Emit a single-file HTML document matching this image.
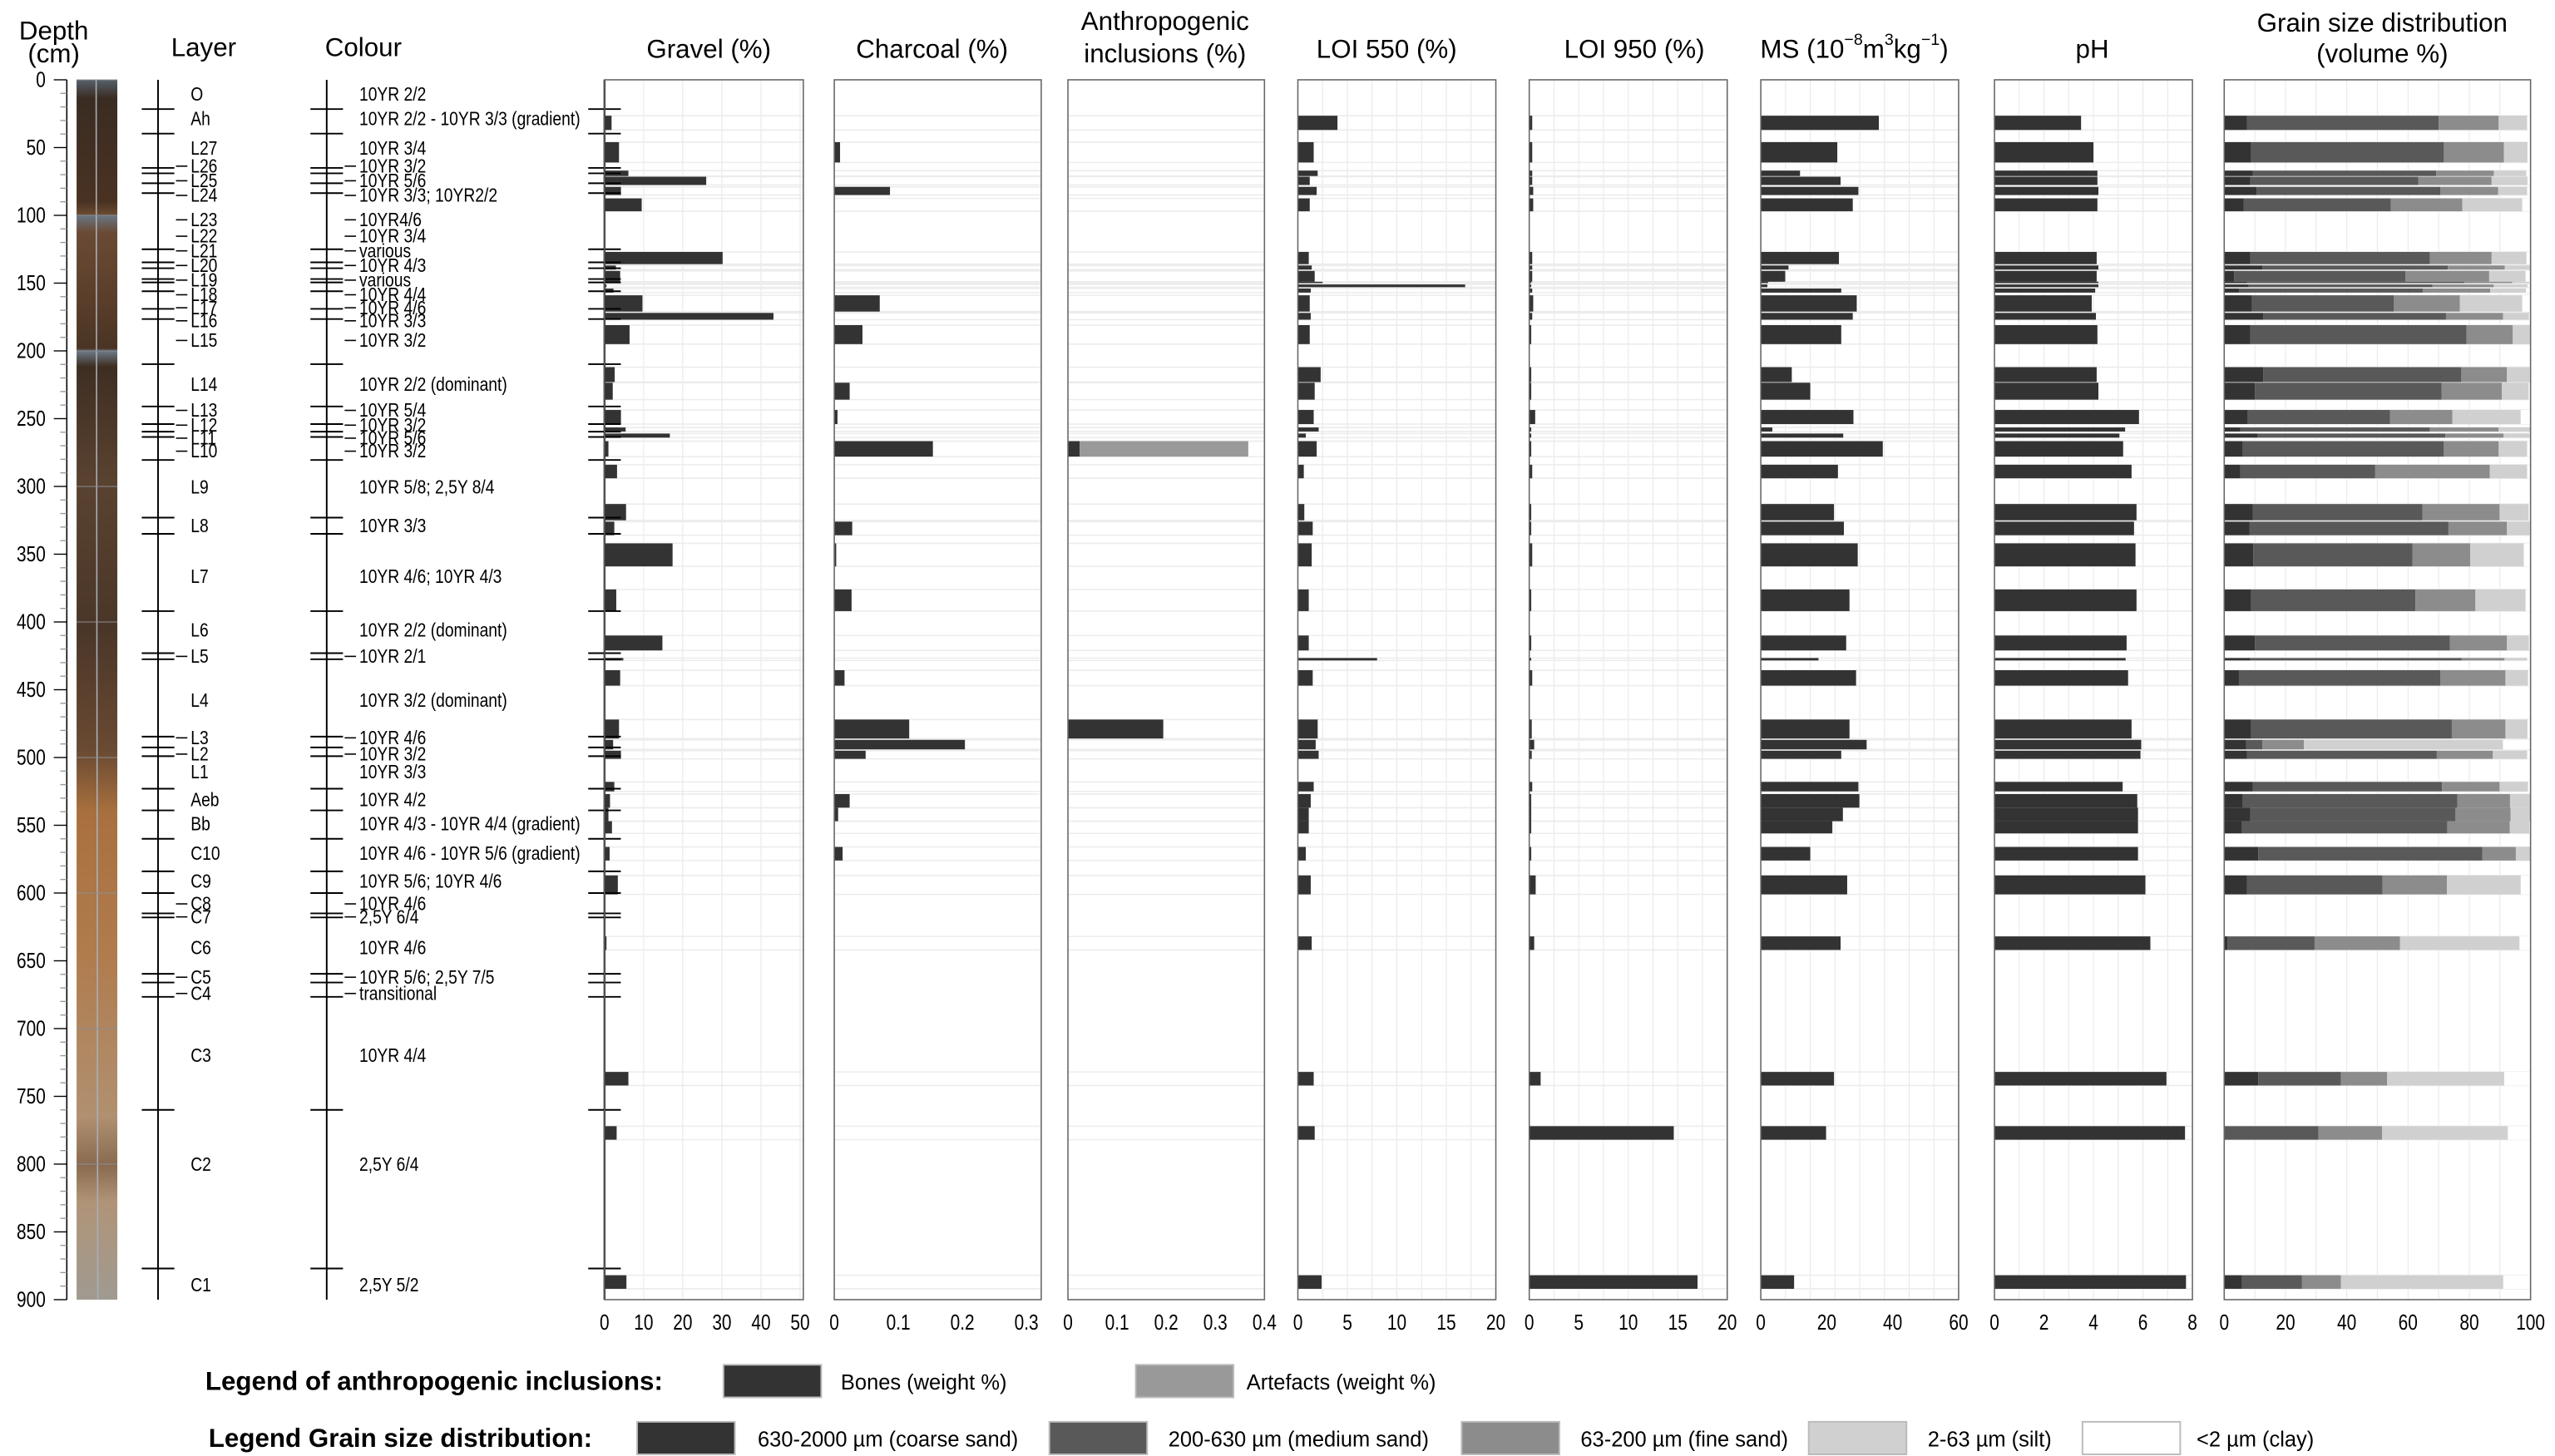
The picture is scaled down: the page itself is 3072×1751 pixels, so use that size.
<!DOCTYPE html>
<html><head><meta charset="utf-8"><title>Soil profile chart</title>
<style>html,body{margin:0;padding:0;background:#fff}svg{display:block}</style></head>
<body>
<svg id="chart" xmlns="http://www.w3.org/2000/svg" width="3072" height="1751" viewBox="0 0 1568 894" preserveAspectRatio="none" font-family="Liberation Sans, sans-serif">
<defs>
<linearGradient id="core" x1="0" y1="0" x2="0" y2="1">
<stop offset="0" stop-color="#56606a"/><stop offset="0.015" stop-color="#3a2c22"/>
<stop offset="0.1" stop-color="#4a3222"/><stop offset="0.11" stop-color="#6a4a30"/>
<stop offset="0.112" stop-color="#687480"/><stop offset="0.125" stop-color="#6a4a34"/>
<stop offset="0.18" stop-color="#5a3e2a"/><stop offset="0.22" stop-color="#4a3424"/>
<stop offset="0.223" stop-color="#6a7682"/><stop offset="0.235" stop-color="#3e2e22"/>
<stop offset="0.33" stop-color="#5a4230"/><stop offset="0.45" stop-color="#4a3628"/>
<stop offset="0.55" stop-color="#6a4a32"/><stop offset="0.6" stop-color="#a8703e"/>
<stop offset="0.72" stop-color="#b07c4e"/><stop offset="0.85" stop-color="#b09070"/>
<stop offset="0.89" stop-color="#8a6a50"/><stop offset="0.92" stop-color="#b09478"/>
<stop offset="1" stop-color="#a09a90"/>
</linearGradient>
</defs>
<g id="g"></g>
</svg>
<script>
// ---- data ----
const sampleTop    = [26.5,46,67,71.5,79,87.5,127,137,141,149,151,154,159,172,181,212,223.5,243.6,256.5,261,266.6,284,313,326,342,376,410,426.6,435.6,472,487,495,518,527,537,547,566,587,632,732,772,882];
const sampleBottom = [37,61,71,77.6,85,97,136,140,149,150,153,157,171,177,195,223,236,254,259.5,264,278,294,325,336,359,392,421,428.4,447,486,494,501,525,537,547,556,576,601,642,742,782,892];
const gravel   = [1.8,3.7,6.1,26,4.2,9.5,30.2,2.9,4.0,0.9,0.5,2.3,9.7,43.2,6.4,2.6,2.1,4.2,5.4,16.7,1.0,3.2,5.5,2.5,17.4,3.0,14.8,4.8,4.0,3.7,2.2,4.2,2.5,1.4,1.0,1.9,1.3,3.4,0.5,6.1,3.1,5.6];
const charcoal = [0,0.009,0,0,0.087,0,0,0,0,0,0,0,0.071,0,0.044,0,0.024,0.005,0,0,0.154,0,0,0.028,0.003,0.027,0,0,0.016,0.117,0.204,0.049,0,0.024,0.006,0,0.013,0,0,0,0,0];
const bones     = [0,0,0,0,0,0,0,0,0,0,0,0,0,0,0,0,0,0,0,0,0.024,0,0,0,0,0,0,0,0,0.194,0,0,0,0,0,0,0,0,0,0,0,0];
const artefacts = [0,0,0,0,0,0,0,0,0,0,0,0,0,0,0,0,0,0,0,0,0.343,0,0,0,0,0,0,0,0,0,0,0,0,0,0,0,0,0,0,0,0,0];
const loi550 = [4.0,1.6,2.0,1.2,1.9,1.2,1.1,1.4,1.7,2.5,16.9,1.3,1.2,1.3,1.2,2.3,1.7,1.6,2.1,0.8,1.9,0.6,0.65,1.5,1.4,1.1,1.1,8.0,1.5,2.0,1.8,2.1,1.6,1.3,1.1,1.1,0.8,1.3,1.4,1.6,1.7,2.4];
const loi950 = [0.3,0.3,0.3,0.3,0.4,0.4,0.3,0.3,0.3,0.2,0.2,0.3,0.4,0.3,0.2,0.2,0.2,0.6,0.2,0.2,0.2,0.3,0.2,0.2,0.3,0.2,0.2,0.2,0.3,0.25,0.5,0.25,0.3,0.2,0.2,0.2,0.2,0.65,0.5,1.15,14.6,17.0];
const ms = [35.8,23.2,11.9,24.2,29.6,27.9,23.7,8.4,7.4,2.2,2.0,24.4,29.1,27.9,24.4,9.4,15,28.1,3.5,25,37,23.4,22.2,25.2,29.4,26.9,25.9,17.5,28.9,26.9,32.1,24.4,29.6,29.9,24.9,21.7,15,26.2,24.2,22.2,19.8,10.1];
const ph = [3.5,4.0,4.16,4.16,4.2,4.16,4.13,4.2,4.13,4.2,4.2,4.07,3.93,4.1,4.16,4.13,4.2,5.84,5.28,5.05,5.2,5.54,5.74,5.64,5.7,5.74,5.34,5.3,5.4,5.54,5.93,5.9,5.18,5.77,5.8,5.8,5.8,6.1,6.3,6.95,7.7,7.74];
const coarse = [7.4,8.8,9.3,8.5,10.6,6.4,8.5,12.5,3.2,7.4,8,4.8,9,12.7,8.5,12.7,10,7.7,5.3,10.9,6.1,5.3,9.3,8.2,9.5,8.8,10,8.5,4.8,8.8,7.2,7.4,9.3,6.1,8.5,5.8,11.1,7.4,1.1,11.1,0,5.8];
const medium = [62.6,62.9,59.9,54.9,60,48,58.6,60.5,56,71,60,60,46.4,59.7,70.6,64.7,61,46.4,61.8,61.3,65.5,44,55.4,65,52,53.6,63.7,69,65.8,65.5,5.3,62,61.8,70,67,67,73.2,44.3,28.4,27,30.8,19.6];
const fine   = [19.6,19.6,18.8,23.9,18.8,23.3,20.2,18.6,27.3,15.6,20,22,21.5,18.6,15.1,14.9,19.6,20.4,22.5,19,18,37.4,25.2,19.1,18.8,19.6,18.6,14,21.2,17.5,13.5,18.3,18.8,17.2,18,20.4,10.9,21,27.9,15.1,20.7,12.7];
const silt   = [9.3,7.7,10.6,11.7,9.5,19.6,11.4,8.2,11.9,5.6,11,11.7,20.4,8.5,5.6,7.4,8.8,22.3,10.3,8.5,9.3,12.2,9.5,7.4,17.5,16.4,7.2,7.4,7.4,7.2,65,11.2,9.3,6.6,6.4,6.4,4.8,24.1,39,38.2,41.1,53];
const clay   = [1.1,1,1.4,1,1.1,2.7,1.3,0.2,1.6,0.4,1,1.5,2.7,0.5,0.2,0.3,0.6,3.2,0,0.3,1.1,1.1,0.6,0.3,2.2,1.6,0.5,1.1,0.8,1,9,1.1,0.8,0,0,0.3,0,3.2,3.6,8.6,7.4,8.9];
const boundaries = [21.6,39.7,65,69,76.3,83.6,125,134.7,139,147,149.5,156,169,176.5,209.8,241,254,259.6,263.5,280.5,323,335,392,423,427.5,484.6,492.6,499,523,539,560,584,600,615,618,659.6,666,676.6,760,877];
const layerNames = ["O","Ah","L27","L26","L25","L24","L23","L22","L21","L20","L19","L18","L17","L16","L15","L14","L13","L12","L11","L10","L9","L8","L7","L6","L5","L4","L3","L2","L1","Aeb","Bb","C10","C9","C8","C7","C6","C5","C4","C3","C2","C1"];
const colourNames = ["10YR 2/2","10YR 2/2 - 10YR 3/3 (gradient)","10YR 3/4","10YR 3/2","10YR 5/6","10YR 3/3; 10YR2/2","10YR4/6","10YR 3/4","various","10YR 4/3","various","10YR 4/4","10YR 4/6","10YR 3/3","10YR 3/2","10YR 2/2 (dominant)","10YR 5/4","10YR 3/2","10YR 5/6","10YR 3/2","10YR 5/8; 2,5Y 8/4","10YR 3/3","10YR 4/6; 10YR 4/3","10YR 2/2 (dominant)","10YR 2/1","10YR 3/2 (dominant)","10YR 4/6","10YR 3/2","10YR 3/3","10YR 4/2","10YR 4/3 - 10YR 4/4 (gradient)","10YR 4/6 - 10YR 5/6 (gradient)","10YR 5/6; 10YR 4/6","10YR 4/6","2,5Y 6/4","10YR 4/6","10YR 5/6; 2,5Y 7/5","transitional","10YR 4/4","2,5Y 6/4","2,5Y 5/2"];
const labelDepth = [10.8,28.8,50.5,63.7,74.5,85.3,103.3,115.4,126.2,137,147.8,158.6,168.2,177.8,192.3,224.7,243.9,254.8,264.4,274,300.4,329.2,366.5,406.2,425.4,457.8,485.5,497.5,510.7,531.1,549.1,570.8,591.2,608,617.6,640.5,662.1,674.1,719.8,800.3,889.2];
const leader = [0,0,0,1,1,1,1,1,1,1,1,1,1,1,1,0,1,1,1,1,0,0,0,0,1,0,1,1,0,0,0,0,0,1,1,0,1,1,0,0,0];
const depthTicks = [0,50,100,150,200,250,300,350,400,450,500,550,600,650,700,750,800,850,900];
const gravelTicks = [0,10,20,30,40,50];
const charcoalTicks = [0,0.1,0.2,0.3];
const anthroTicks = [0,0.1,0.2,0.3,0.4];
const loiTicks = [0,5,10,15,20];
const msTicks = [0,20,40,60];
const phTicks = [0,2,4,6,8];
const grainTicks = [0,20,40,60,80,100];

// ---- drawing ----
const NS='http://www.w3.org/2000/svg';
const G=document.getElementById('g');
const Y0=49, Y1=798;
function y(d){return Y0+d*(Y1-Y0)/900;}
function mk(tag,attrs,parent){const e=document.createElementNS(NS,tag);for(const k in attrs)e.setAttribute(k,attrs[k]);(parent||G).appendChild(e);return e;}
const NARROW='narrow';
function txt(s,x,yy,size,anchor,parent,weight,family){
  const a={'font-size':size,'text-anchor':anchor||'start','dominant-baseline':'central','font-weight':weight||'normal','font-family':'Liberation Sans, sans-serif'};
  if(family===NARROW){a.x=0;a.y=yy;a.transform='translate('+x+',0) scale(0.82,1)';}else{a.x=x;a.y=yy;}
  const t=mk('text',a,parent);t.textContent=s;return t;}

// titles
const titles=[["Depth",33,19],["(cm)",33,33],["Layer",125,29],["Colour",223,29],["Gravel (%)",435,30],["Charcoal (%)",572,30],["Anthropogenic",715,13],["inclusions (%)",715,33],["LOI 550 (%)",851,30],["LOI 950 (%)",1003,30],["Grain size distribution",1462,14],["(volume %)",1462,33]];
titles.forEach(t=>{const e=txt(t[0],t[1],t[2],16,'middle');});
{const e=mk('text',{x:1138,y:30,'font-size':16,'text-anchor':'middle','dominant-baseline':'central'});e.innerHTML='MS (10<tspan baseline-shift="super" font-size="10">−8</tspan>m<tspan baseline-shift="super" font-size="10">3</tspan>kg<tspan baseline-shift="super" font-size="10">−1</tspan>)';}
{const e=txt("pH",1284,30,16,'middle');}

// depth axis
const dax=mk('g',{});
mk('line',{x1:41,y1:Y0,x2:41,y2:Y1,stroke:'#000','stroke-width':0.8},dax);
for(let d=0;d<=900;d+=10){mk('line',{x1:d%50===0?33:37,y1:y(d),x2:41,y2:y(d),stroke:d%50===0?'#000':'#999','stroke-width':0.7},dax);}
depthTicks.forEach(d=>{const e=txt(String(d),28,y(d),13,'end',dax,'normal',NARROW);});
// core photo
const ph0=mk('rect',{x:47,y:Y0,width:25,height:Y1-Y0,fill:'url(#core)'});

mk('line',{x1:59,y1:Y0,x2:60,y2:Y1,stroke:'#a8b0b8','stroke-width':0.8});
[0,100,200,300,400,500,600,700,800].forEach(d=>mk('line',{x1:47,y1:y(d),x2:72,y2:y(d),stroke:'#8a8f96','stroke-width':0.5}));

// layer & colour columns
function column(lineX,labelX,names,nameTag){
  const g=mk('g',{});
  mk('line',{x1:lineX,y1:Y0,x2:lineX,y2:Y1,stroke:'#000','stroke-width':1},g);
  boundaries.forEach(b=>mk('line',{x1:lineX-10,y1:y(b),x2:lineX+10,y2:y(b),stroke:'#000','stroke-width':1},g));
  names.forEach((n,i)=>{
    const e=txt(n,labelX,y(labelDepth[i]),12,'start',g,'normal',NARROW);
    
    if(leader[i]) mk('line',{x1:labelX-9,y1:y(labelDepth[i]),x2:labelX-2,y2:y(labelDepth[i]),stroke:'#000','stroke-width':0.8},g);
  });
}
column(97,117,layerNames,'layer');
column(200.5,220.5,colourNames,'colour');

// panels
function panel(name,x0,x1,pxPerUnit,ticks,grid,drawFn){
  const g=mk('g',{});
  function sx(v){return x0+v*pxPerUnit;}
  grid.forEach(v=>mk('line',{x1:sx(v),y1:Y0,x2:sx(v),y2:Y1,stroke:'#e6e6e6','stroke-width':0.5},g));
  sampleTop.forEach((t,i)=>{[t,sampleBottom[i]].forEach(d=>mk('line',{x1:x0,y1:y(d),x2:x1,y2:y(d),stroke:'#ececec','stroke-width':0.8},g));});
  drawFn(g,sx);
  mk('rect',{x:x0,y:Y0,width:x1-x0,height:Y1-Y0,fill:'none',stroke:'#666','stroke-width':0.8},g);
  ticks.forEach(v=>{const e=txt(String(v),sx(v),812,13,'middle',g,'normal',NARROW);});
  return g;
}
function simpleBars(arr,name){return (g,sx)=>{arr.forEach((v,i)=>{if(!v)return;const r=mk('rect',{x:sx(0),y:y(sampleTop[i]),width:sx(v)-sx(0),height:y(sampleBottom[i])-y(sampleTop[i]),fill:'#333'},g);});};}
function range(a,b,s){const r=[];for(let v=a;v<=b+1e-9;v+=s)r.push(+v.toFixed(4));return r;}

panel('gravel',371,493,120/50,gravelTicks,range(0,50,10),(g,sx)=>{
  simpleBars(gravel,'gravel')(g,sx);
  mk('line',{x1:371,y1:Y0,x2:371,y2:Y1,stroke:'#000','stroke-width':1.2},g);
  boundaries.forEach(b=>mk('line',{x1:361,y1:y(b),x2:381,y2:y(b),stroke:'#000','stroke-width':1},g));
});
panel('charcoal',512,639,393,charcoalTicks,[],simpleBars(charcoal,'charcoal'));
panel('anthropogenic',655.4,776,301.5,anthroTicks,[],(g,sx)=>{
  bones.forEach((v,i)=>{const h=y(sampleBottom[i])-y(sampleTop[i]);
    if(v){const r=mk('rect',{x:sx(0),y:y(sampleTop[i]),width:sx(v)-sx(0),height:h,fill:'#333'},g);}
    if(artefacts[i]){const r=mk('rect',{x:sx(v),y:y(sampleTop[i]),width:sx(v+artefacts[i])-sx(v),height:h,fill:'#999'},g);}
  });
});
panel('loi550',796.5,918,121.5/20,loiTicks,range(0,20,2.5),simpleBars(loi550,'loi550'));
panel('loi950',938.5,1060,121.5/20,loiTicks,range(0,20,2.5),simpleBars(loi950,'loi950'));
panel('ms',1080.6,1202,121.4/60,msTicks,range(0,60,7.5),simpleBars(ms,'ms'));
panel('ph',1224,1345.5,121.5/8,phTicks,range(0,8,1),simpleBars(ph,'ph'));
const grainCols=['#333','#595959','#8c8c8c','#d0d0d0','#ffffff'];
const grainSeries=[coarse,medium,fine,silt,clay];
const grainNames=['coarse-sand','medium-sand','fine-sand','silt','clay'];
panel('grain-size',1365,1553,188/100,grainTicks,range(0,100,10),(g,sx)=>{
  sampleTop.forEach((t,i)=>{let acc=0;const h=y(sampleBottom[i])-y(t);
    grainSeries.forEach((s,k)=>{const v=s[i];const r=mk('rect',{x:sx(acc),y:y(t),width:Math.max(0,sx(acc+v)-sx(acc)),height:h,fill:grainCols[k]},g);acc+=v;});
  });
});

// legends
const lg=mk('g',{});
{const e=txt('Legend of anthropogenic inclusions:',126,848,16,'start',lg,'bold');}
{const e=txt('Legend Grain size distribution:',128,883,16,'start',lg,'bold');}
const legItems=[[444,838,'#333','Bones (weight %)',516],[697,838,'#999','Artefacts (weight %)',765],
[391,873,'#333','630-2000 µm (coarse sand)',465],[644,873,'#595959','200-630 µm (medium sand)',717],[897,873,'#8c8c8c','63-200 µm (fine sand)',970],[1110,873,'#d0d0d0','2-63 µm (silt)',1183],[1278,873,'#fff','<2 µm (clay)',1348]];
legItems.forEach(it=>{
  const r=mk('rect',{x:it[0],y:it[1],width:60,height:20,fill:it[2],stroke:'#bbb','stroke-width':1},lg);
  
  const e=txt(it[3],it[4],it[1]+11,13,'start',lg);
  
});
</script>
</body></html>
